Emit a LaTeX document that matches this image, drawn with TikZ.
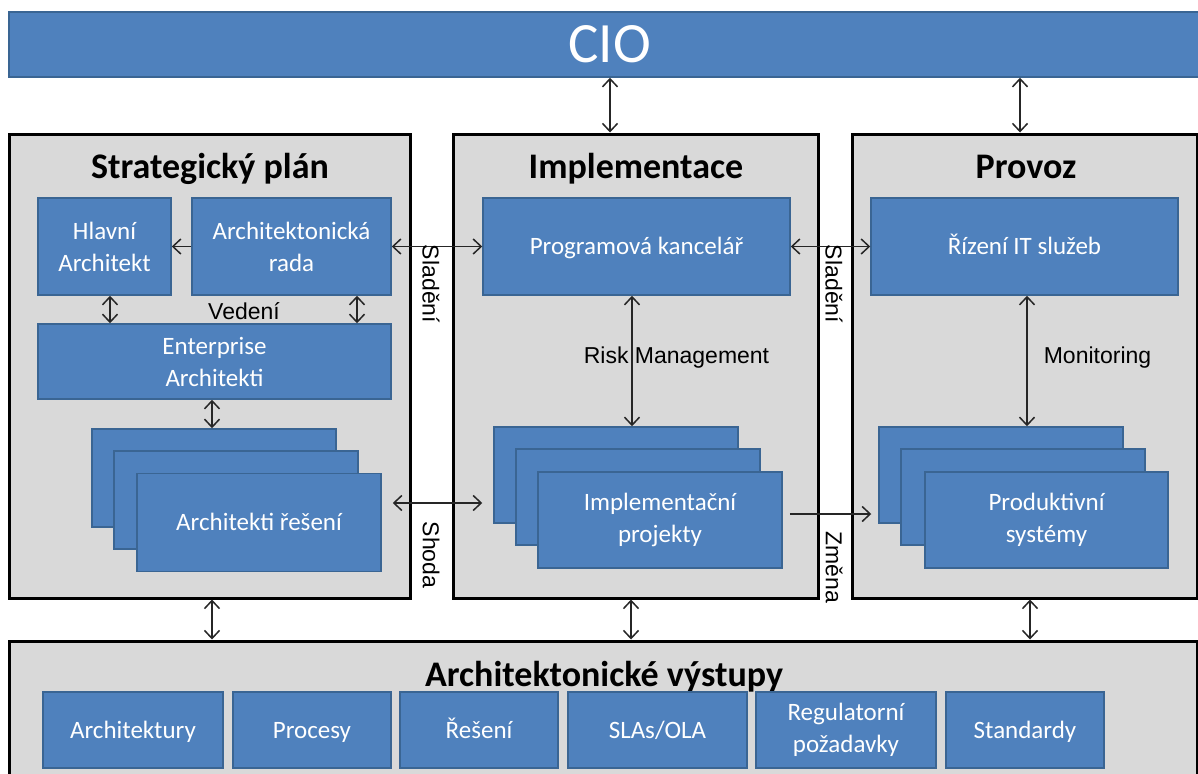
\documentclass[tikz,border=0pt]{standalone}
\usepackage{fontspec}
\setmainfont{Carlito}
\newfontfamily\arialf{Liberation Sans}
\usetikzlibrary{arrows.meta}
\definecolor{boxblue}{HTML}{4F81BD}
\definecolor{boxline}{HTML}{3A6593}
\definecolor{panelgray}{HTML}{D9D9D9}
\definecolor{arrowc}{HTML}{262626}
\begin{document}
\begin{tikzpicture}[x=1pt,y=-1pt,
 box/.style={draw=boxline, line width=1.5pt, fill=boxblue, text=white, inner sep=0pt, align=center, font=\fontsize{25}{32}\selectfont},
 one/.style={text height=16pt, text depth=0pt},
 panel/.style={draw=black, line width=3pt, fill=panelgray, inner sep=0pt},
 ptitle/.style={font=\fontsize{36}{40}\selectfont\bfseries, anchor=base, inner sep=0pt},
 lab/.style={font=\arialf\fontsize{23}{26}\selectfont, inner sep=0pt},
 dbl/.style={{Straight Barb[length=8pt,width=15pt]}-{Straight Barb[length=8pt,width=15pt]}, line width=1.5pt, draw=arrowc},
 sgl/.style={-{Straight Barb[length=8pt,width=15pt]}, line width=1.5pt, draw=arrowc}]
\useasboundingbox (0,0) rectangle (1198,773);
\fill[white] (0,0) rectangle (1198,773);

% CIO bar
\node[box, minimum width=1201pt, minimum height=65pt, font=\fontsize{57}{60}\selectfont, text height=36pt, text depth=0pt] (cio) at (609.5,44.5) {CIO};

% panels
\node[panel, minimum width=401pt, minimum height=464pt] (left) at (209.5,366) {};
\node[panel, minimum width=365pt, minimum height=464pt] (mid) at (635.5,366) {};
\node[panel, minimum width=345pt, minimum height=464pt] (right) at (1024.5,366) {};
\node[panel, minimum width=1188pt, minimum height=149pt] (bottom) at (603,715.5) {};

% titles
\node[ptitle] (tleft) at (210,178) {Strategický plán};
\node[ptitle] (tmid) at (636,178) {Implementace};
\node[ptitle] (tright) at (1026,178) {Provoz};
\node[ptitle] (tbottom) at (604,686) {Architektonické výstupy};

% left panel boxes
\node[box, minimum width=133pt, minimum height=97pt] (hlavni) at (104.5,246.5) {Hlavní\\Architekt};
\node[box, minimum width=199pt, minimum height=97pt] (rada) at (291.5,246.5) {Architektonická\\rada};
\node[box, minimum width=353pt, minimum height=75pt] (ea) at (214.5,361.5) {Enterprise\\Architekti};
\node[box, minimum width=244pt, minimum height=98pt] (ar1) at (214,478) {};
\node[box, minimum width=244pt, minimum height=98pt] (ar2) at (236,500) {};
\node[box, one, minimum width=244pt, minimum height=98pt] (ar3) at (259,522.5) {Architekti řešení};

% middle panel boxes
\node[box, one, minimum width=307pt, minimum height=97pt] (pk) at (636.5,246.5) {Programová kancelář};
\node[box, minimum width=244pt, minimum height=96pt] (ip1) at (616,475) {};
\node[box, minimum width=244pt, minimum height=96pt] (ip2) at (638,497) {};
\node[box, minimum width=244pt, minimum height=96pt] (ip3) at (660,520) {Implementační\\projekty};

% right panel boxes
\node[box, one, minimum width=307pt, minimum height=97pt] (rit) at (1024.5,246.5) {Řízení IT služeb};
\node[box, minimum width=244pt, minimum height=96pt] (ps1) at (1001,475) {};
\node[box, minimum width=244pt, minimum height=96pt] (ps2) at (1023,497) {};
\node[box, minimum width=243pt, minimum height=96pt] (ps3) at (1046.5,520) {Produktivní\\systémy};

% bottom boxes
\node[box, one, minimum width=180pt, minimum height=76pt] (arch) at (133,730) {Architektury};
\node[box, one, minimum width=158pt, minimum height=76pt] (proc) at (312,730) {Procesy};
\node[box, one, minimum width=158pt, minimum height=76pt] (res) at (479,730) {Řešení};
\node[box, one, minimum width=179pt, minimum height=76pt] (sla) at (657.5,730) {SLAs/OLA};
\node[box, minimum width=180pt, minimum height=76pt] (reg) at (846,730) {Regulatorní\\požadavky};
\node[box, one, minimum width=158pt, minimum height=76pt] (std) at (1025,730) {Standardy};

% helper coordinates
\coordinate (xc1) at (610,0);
\coordinate (xc2) at (1020,0);
\coordinate (xb1) at (212,0);
\coordinate (xb2) at (631,0);
\coordinate (xb3) at (1030,0);
\coordinate (xh) at (110,0);
\coordinate (xr) at (357,0);
\coordinate (xe) at (212,0);
\coordinate (xpk) at (632,0);
\coordinate (xrit) at (1027,0);
\coordinate (ysh) at (0,503);
\coordinate (yzm) at (0,514);

% arrows
\draw[dbl] (cio.south -| xc1) -- (mid.north -| xc1);
\draw[dbl] (cio.south -| xc2) -- (right.north -| xc2);
\draw[dbl] (left.south -| xb1) -- (bottom.north -| xb1);
\draw[dbl] (mid.south -| xb2) -- (bottom.north -| xb2);
\draw[dbl] (right.south -| xb3) -- (bottom.north -| xb3);
\draw[sgl] (rada.west) -- (hlavni.east);
\draw[dbl] (hlavni.south -| xh) -- (ea.north -| xh);
\draw[dbl] (rada.south -| xr) -- (ea.north -| xr);
\draw[dbl] (ea.south -| xe) -- (ar1.north -| xe);
\draw[dbl] (rada.east) -- (pk.west);
\draw[dbl] (pk.east) -- (rit.west);
\draw[dbl] (pk.south -| xpk) -- (ip1.north -| xpk);
\draw[dbl] (rit.south -| xrit) -- (ps1.north -| xrit);
\draw[dbl, shorten <=11pt, shorten >=11pt] (ar3.east |- ysh) -- (ip1.west |- ysh);
\draw[sgl, shorten <=7pt, shorten >=7pt] (ip3.east |- yzm) -- (ps1.west |- yzm);

% labels
\node[lab, anchor=base] (lved) at (244,319) {Vedení};
\node[lab, anchor=base] (lrisk) at (676.5,363) {Risk Management};
\node[lab, anchor=base] (lmon) at (1097.5,363) {Monitoring};
\node[lab, rotate=-90] (lsl1) at (431,284) {Sladění};
\node[lab, rotate=-90] (lsh) at (431,555) {Shoda};
\node[lab, rotate=-90] (lsl2) at (834,284) {Sladění};
\node[lab, rotate=-90] (lzm) at (834,567) {Změna};
\end{tikzpicture}
\end{document}
